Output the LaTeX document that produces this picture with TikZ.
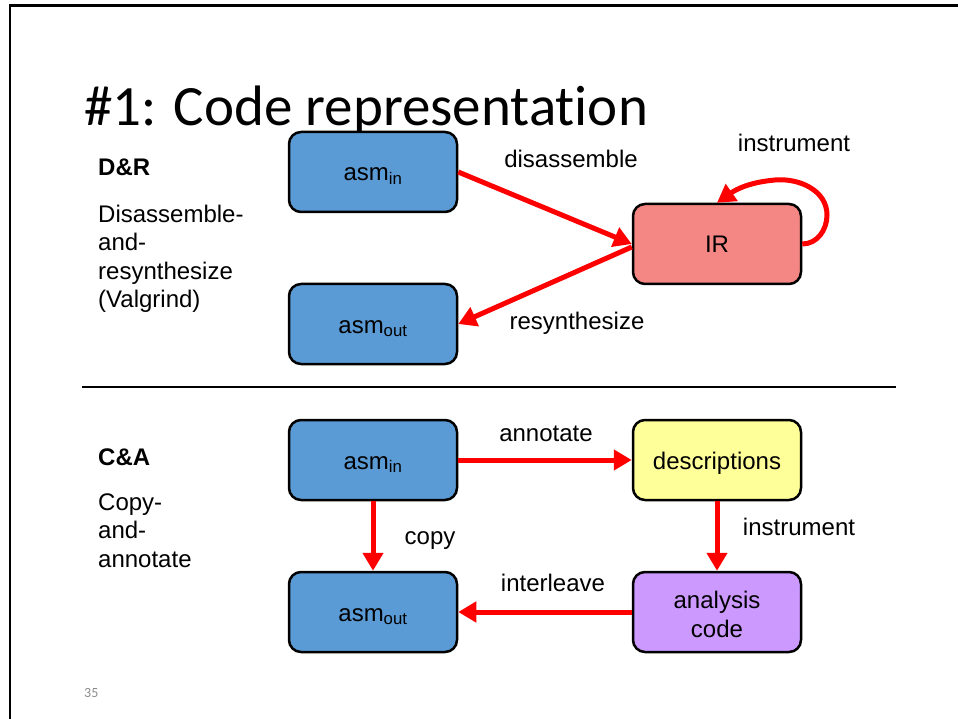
\documentclass[tikz,border=0pt]{standalone}
\usepackage{fontspec}
\setmainfont{Liberation Sans}
\newfontfamily\titlefont[Ligatures={NoCommon,NoRequired,NoContextual}]{Carlito}
\usetikzlibrary{arrows.meta,calc}
\definecolor{boxblue}{HTML}{5B9BD5}
\definecolor{boxred}{HTML}{F48784}
\definecolor{boxyellow}{HTML}{FFFF99}
\definecolor{boxpurple}{HTML}{CC99FF}
\definecolor{arrred}{HTML}{FF0000}
\definecolor{pggray}{HTML}{8C8C8C}
\tikzset{
  box/.style={draw=black, line width=2.5pt, rounded corners=12pt, minimum width=168pt, minimum height=80pt, inner sep=0pt, align=center, font=\fontsize{24}{28.5}\selectfont},
  onebox/.style={box, text height=22pt, text depth=4pt},
  lbl/.style={inner sep=0pt, font=\fontsize{24}{28.5}\selectfont},
  arr/.style={draw=arrred, line width=5pt, -{Triangle[length=18pt,width=20pt]}},
}
\begin{document}
\begin{tikzpicture}[x=1pt,y=-1pt]
\useasboundingbox (0,0) rectangle (958,719);
% frame
\draw[line width=2.5pt] (10,719) -- (10,5.5) -- (958,5.5);
% title
\node[inner sep=0pt, anchor=base west, font=\titlefont\fontsize{57}{60}\selectfont] (title) at (84,126) {\#1: Code representation};
% page number
\node[inner sep=0pt, anchor=base west, text=pggray, font=\titlefont\fontsize{14}{16}\selectfont] (pg) at (84,697) {35};
% separator
\draw[line width=1.5pt] (82,387) -- (896,387);

% left texts
\node[lbl, anchor=base west, font=\bfseries\fontsize{24}{28.5}\selectfont] (dr) at (98,176) {D\&R};
\node[lbl, anchor=north west, align=left] (drtext) at (98,204.5) {Disassemble-\\and-\\resynthesize\\(Valgrind)};
\node[lbl, anchor=base west, font=\bfseries\fontsize{24}{28.5}\selectfont] (ca) at (98,465) {C\&A};
\node[lbl, anchor=north west, align=left] (catext) at (98,493.5) {Copy-\\and-\\annotate};

% boxes top
\node[onebox, fill=boxblue] (ain1) at (373,172) {asm\textsubscript{in}};
\node[onebox, fill=boxred] (ir) at (717,244) {IR};
\node[onebox, fill=boxblue] (aout1) at (373,324) {asm\textsubscript{out}};
% boxes bottom
\node[onebox, fill=boxblue] (ain2) at (373,460) {asm\textsubscript{in}};
\node[onebox, fill=boxyellow] (desc) at (717,460) {descriptions};
\node[onebox, fill=boxblue] (aout2) at (373,612) {asm\textsubscript{out}};
\node[box, fill=boxpurple] (ana) at (717,612) {\rule{0pt}{22.5pt}analysis\\code};

% top arrows
\draw[arr] (ain1.east) -- (ir.west);
\draw[arr] ($(ir.west)+(0,3)$) -- (aout1.east);
\coordinate (lp1) at (827,215);
\coordinate (lp2) at (775,180);
\draw[arr] (ir.east) to[out=0,in=-90] (lp1) to[out=90,in=5] (lp2) to[out=185,in=35] (ir.north);
\node[lbl, anchor=base] (l1) at (571,168) {disassemble};
\node[lbl, anchor=base] (l2) at (794,152) {instrument};
\node[lbl, anchor=base] (l3) at (577,329) {resynthesize};

% bottom arrows
\draw[arr] (ain2.east) -- (desc.west);
\draw[arr] (ain2.south) -- (aout2.north);
\draw[arr] (desc.south) -- (ana.north);
\draw[arr] (ana.west) -- (aout2.east);
\node[lbl, anchor=base] (l4) at (546,441) {annotate};
\node[lbl, anchor=base] (l5) at (430,544) {copy};
\node[lbl, anchor=base] (l6) at (799,535) {instrument};
\node[lbl, anchor=base] (l7) at (553,591) {interleave};
\end{tikzpicture}
\end{document}
